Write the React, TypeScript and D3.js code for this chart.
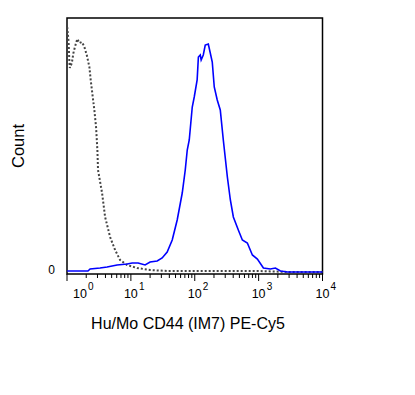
import React, { useEffect, useRef } from 'react';
import * as d3 from 'd3';

// stained sample (blue) - fluorescence intensity vs count
const stainedX = [1.01, 2.13, 2.3, 3.29, 4.24, 6.09, 8.73, 10.5, 13.0, 16.7, 20.0, 25.8, 30.9, 37.0, 44.4, 53.1, 63.7, 71.0, 76.3, 82.0, 91.4, 98.2, 109, 114, 122, 126, 136, 146, 163, 175, 188, 202, 225, 251, 280, 324, 361, 402, 481, 556, 666, 798, 956, 1188, 1528, 1832, 2195, 2826, 4520, 10000];
const stainedY = [1, 1, 3, 4, 5, 7, 8, 9, 9, 7, 10, 11, 14, 20, 32, 52, 79, 102, 122, 132, 165, 175, 192, 215, 217, 212, 217, 227, 228, 219, 210, 185, 172, 162, 132, 95, 72, 55, 42, 32, 29, 17, 13, 4, 3, 4, 1, 0, 0, 0];

// isotype control (dotted)
const controlX = [1.007, 1.06, 1.09, 1.11, 1.19, 1.26, 1.33, 1.45, 1.56, 1.7, 1.85, 2.04, 2.24, 2.35, 2.53, 2.68, 2.85, 2.99, 3.06, 3.54, 3.95, 4.73, 5.66, 6.78, 8.73, 12.5, 20.0, 37.0, 76.3, 300, 1000, 3000, 10000];
const controlY = [245, 230, 210, 204, 209, 219, 225, 233, 229, 230, 226, 217, 205, 192, 175, 162, 145, 122, 102, 79, 55, 35, 22, 12, 7, 4, 2, 1, 1, 1, 1, 0, 0];

const decades = [1, 10, 100, 1000, 10000];
const decadeExp = ['0', '1', '2', '3', '4'];

const W = 415;
const H = 395;

export default function App() {
  const ref = useRef<SVGSVGElement>(null);

  useEffect(() => {
    if (!ref.current) return;
    const svg = d3.select(ref.current);
    svg.selectAll('*').remove();

    const left = 67, right = 322.5, top = 18, bottom = 274;
    const x = d3.scaleLog().domain([1, 10000]).range([left, right]);
    const y = d3.scaleLinear().domain([0, 254]).range([272, top]);

    const font = 'Arial, "Liberation Sans", sans-serif';

    // frame
    svg.append('rect')
      .attr('x', left).attr('y', top)
      .attr('width', right - left).attr('height', bottom - top)
      .attr('fill', 'none').attr('stroke', '#000').attr('stroke-width', 1.5);

    // x ticks
    const ticks = x.ticks();
    svg.append('g').selectAll('line')
      .data(ticks)
      .join('line')
      .attr('x1', d => x(d)).attr('x2', d => x(d))
      .attr('y1', bottom)
      .attr('y2', d => decades.includes(d) ? bottom + 7 : bottom + 4)
      .attr('stroke', '#000').attr('stroke-width', 1);

    const labels = svg.append('g').attr('font-family', font).attr('fill', '#000');
    decades.forEach((d, i) => {
      const cx = x(d) + (i === 0 ? 13 : 0);
      labels.append('text')
        .attr('x', cx).attr('y', 298)
        .attr('text-anchor', 'middle')
        .attr('font-size', 12.5)
        .text('10');
      labels.append('text')
        .attr('x', cx + 8).attr('y', 290)
        .attr('font-size', 10)
        .text(decadeExp[i]);
    });

    // y zero label
    labels.append('text')
      .attr('x', 55).attr('y', 274)
      .attr('text-anchor', 'end')
      .attr('font-size', 12)
      .text('0');

    // axis titles
    svg.append('text')
      .attr('x', 188).attr('y', 329)
      .attr('text-anchor', 'middle')
      .attr('font-family', font).attr('font-size', 16)
      .text('Hu/Mo CD44 (IM7) PE-Cy5');

    svg.append('text')
      .attr('transform', 'translate(24,146) rotate(-90)')
      .attr('text-anchor', 'middle')
      .attr('font-family', font).attr('font-size', 16.5)
      .text('Count');

    const line = d3.line<[number, number]>()
      .x(d => x(d[0]))
      .y(d => y(d[1]));

    const control = controlX.map((v, i) => [v, controlY[i]] as [number, number]);
    const stained = stainedX.map((v, i) => [v, stainedY[i]] as [number, number]);

    svg.append('path')
      .attr('d', line(control))
      .attr('fill', 'none')
      .attr('stroke', '#444')
      .attr('stroke-width', 2)
      .attr('stroke-dasharray', '2,2');

    svg.append('path')
      .attr('d', line(stained))
      .attr('fill', 'none')
      .attr('stroke', '#0000ff')
      .attr('stroke-width', 1.6);
  }, []);

  return (
    <svg
      ref={ref}
      width={W}
      height={H}
      style={{ position: 'absolute', left: 0, top: 0, background: '#fff' }}
    />
  );
}
